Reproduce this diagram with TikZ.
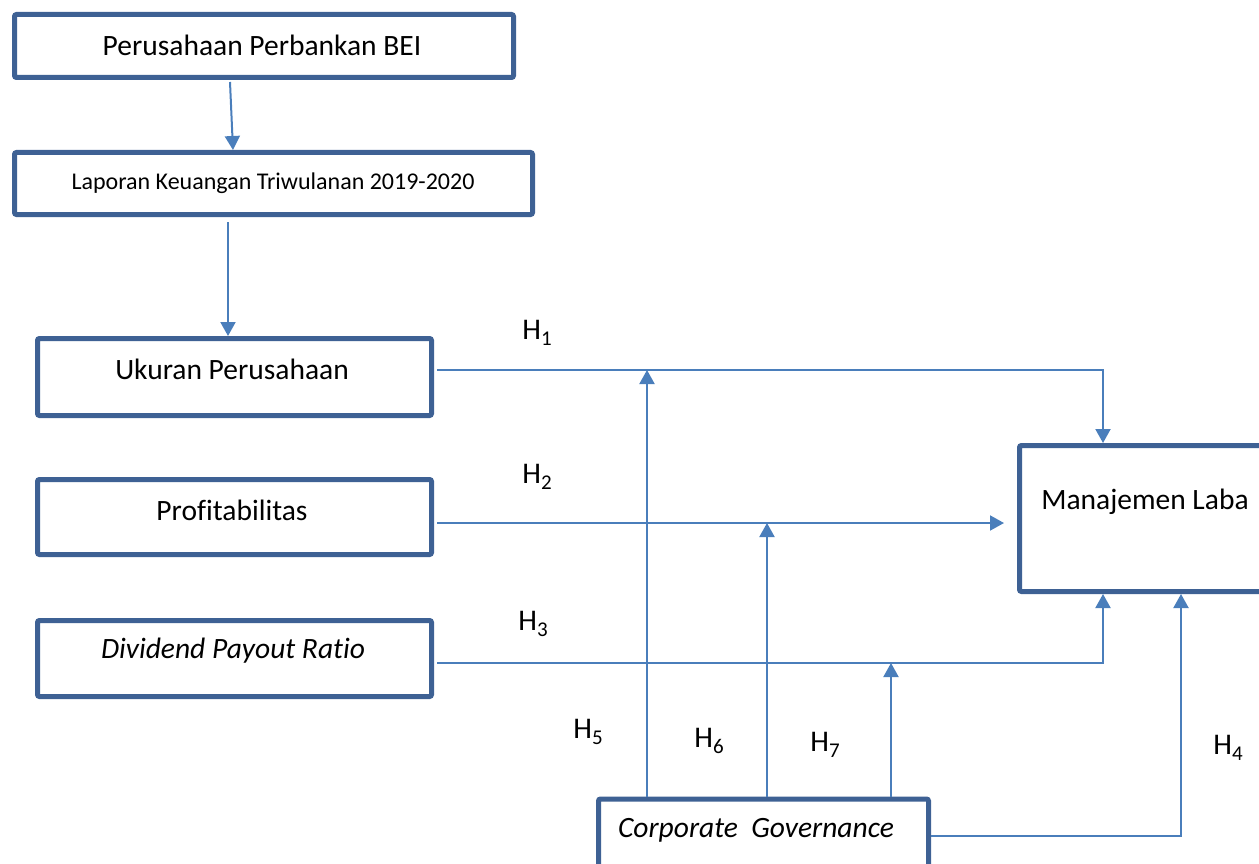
\documentclass[tikz,border=0pt]{standalone}
\usepackage{fontspec}
\setmainfont{Carlito}[Ligatures={NoCommon}]
\usetikzlibrary{arrows.meta}
\definecolor{boxc}{HTML}{3E6194}
\definecolor{arrc}{HTML}{4A7EBB}
\newcommand{\Hlab}[1]{H\raisebox{-0.4ex}{\fontsize{21}{21}\selectfont #1}}
\begin{document}
\begin{tikzpicture}[x=1pt,y=-1pt,
  box/.style={draw=boxc, line width=5pt, rounded corners=2pt, fill=white, inner sep=0pt},
  arr/.style={draw=arrc, line width=2pt, -{Triangle[width=15pt,length=14pt]}},
  txt/.style={font=\fontsize{29.5}{34}\selectfont, inner sep=0pt},
  small/.style={font=\fontsize{24}{28}\selectfont, inner sep=0pt},
  hl/.style={font=\fontsize{30}{34}\selectfont, inner sep=0pt}]
\useasboundingbox (0,0) rectangle (1259,864);
% boxes
\node[box, minimum width=499pt, minimum height=63pt] (b1) at (264,46) {};
\node[box, minimum width=518pt, minimum height=62pt] (b2) at (273.5,183.5) {};
\node[box, minimum width=394pt, minimum height=77pt] (b3) at (234.5,377) {};
\node[box, minimum width=394pt, minimum height=75pt] (b4) at (234.5,517) {};
\node[box, minimum width=394pt, minimum height=76pt] (b5) at (234.5,658.5) {};
\node[box, minimum width=245pt, minimum height=146pt] (ml) at (1142,518.5) {};
\node[box, minimum width=330pt, minimum height=78pt] (cg) at (763.5,838) {};
% texts
\node[txt] (t1) at (262,45) {Perusahaan Perbankan BEI};
\node[small] (t2) at (273,183) {Laporan Keuangan Triwulanan 2019-2020};
\node[txt] (t3) at (232,369) {Ukuran Perusahaan};
\node[txt] (t4) at (232,510) {Profitabilitas};
\node[txt] (t5) at (233,651) {\itshape Dividend Payout Ratio};
\node[txt] (t6) at (1145,502) {Manajemen Laba};
\node[txt] (t7) at (756,830) {\itshape Corporate\ \ Governance};
% hypothesis labels
\node[hl] (h1) at (537,333) {\Hlab{1}};
\node[hl] (h2) at (537,477) {\Hlab{2}};
\node[hl] (h3) at (533,624) {\Hlab{3}};
\node[hl] (h5) at (588,732) {\Hlab{5}};
\node[hl] (h6) at (709,741) {\Hlab{6}};
\node[hl] (h7) at (825,745) {\Hlab{7}};
\node[hl] (h4) at (1228,748) {\Hlab{4}};
% vertical flow
\draw[arr] ([xshift=-34pt,yshift=-2pt]b1.south) -- ([xshift=-40.5pt]b2.north);
\draw[arr] ([xshift=-45.5pt,yshift=-5pt]b2.south) -- ([xshift=-6.5pt]b3.north);
% H1
\draw[arr] ([xshift=3pt,yshift=7pt]b3.east) coordinate (p1) -| ([xshift=-39pt]ml.north);
% H2
\draw[arr, shorten >=13pt] ([xshift=3pt,yshift=-6pt]b4.east) coordinate (p2) -- (p2 -| ml.west);
% H3
\draw[arr] ([xshift=3pt,yshift=-4.5pt]b5.east) coordinate (p3) -| ([xshift=-39pt]ml.south);
% junctions on lines
\coordinate (j1) at (647,0);
\coordinate (j2) at (767,0);
\coordinate (j3) at (891,0);
\draw[arr] (j1 |- cg.north) -- (j1 |- p1);
\draw[arr] (j2 |- cg.north) -- (j2 |- p2);
\draw[arr] (j3 |- cg.north) -- (j3 |- p3);
% H4
\draw[arr] ([yshift=2pt]cg.east) -| ([xshift=39pt]ml.south);
\end{tikzpicture}
\end{document}
